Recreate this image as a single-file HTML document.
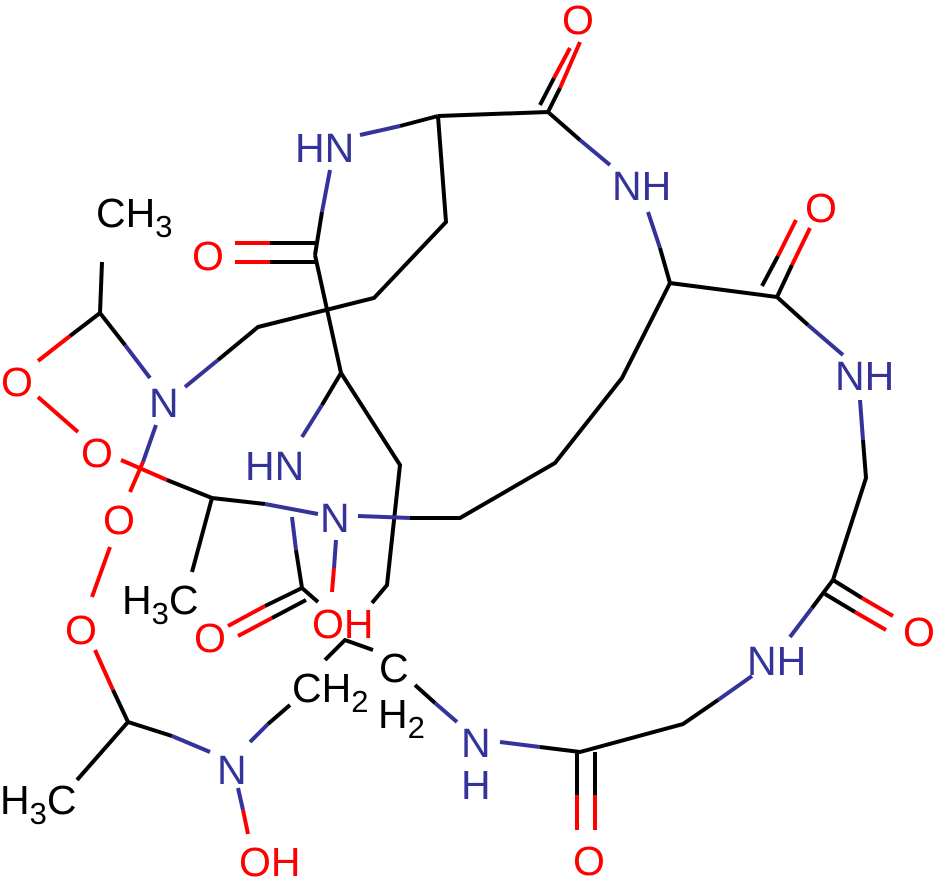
<!DOCTYPE html>
<html><head><meta charset="utf-8"><style>
html,body{margin:0;padding:0;background:#fff;width:935px;height:879px;overflow:hidden}
text{font-family:"Liberation Sans",sans-serif;font-size:41px}
.k{stroke:#000;stroke-width:4;fill:none}
.b{stroke:#33339a;stroke-width:4;fill:none}
.r{stroke:#f00;stroke-width:4;fill:none}
.tb{fill:#33339a}.tr{fill:#f00}.tk{fill:#000}
</style></head><body>
<svg width="935" height="879" viewBox="0 0 935 879" xmlns="http://www.w3.org/2000/svg">
<path class="k" d="M548,112 L560,88 M540,105 L554,78"/>
<path class="r" d="M560,88 L580,42 M554,78 L570,48"/>
<path class="k" d="M438,116 L548,112 M548,112 L580,140"/>
<path class="b" d="M580,140 L610,165"/>
<path class="k" d="M438,116 L400,126"/><path class="b" d="M400,126 L360,135"/>
<path class="b" d="M330,170 L322,212"/><path class="k" d="M322,212 L315,255"/>
<path class="r" d="M270,243 L235,243 M270,262 L235,262"/><path class="k" d="M315,243 L270,243 M315,262 L270,262"/>
<path class="b" d="M648,212 L660,248"/><path class="k" d="M660,248 L670,283 L777,297 L808,325"/>
<path class="b" d="M808,325 L843,355"/>
<path class="k" d="M777,297 L792,265 M762,286 L778,256"/><path class="r" d="M792,265 L810,228 M778,256 L796,220"/>
<path class="b" d="M860,400 L863,440"/><path class="k" d="M863,440 L866,478 L833,580 L812,608"/><path class="b" d="M812,608 L790,637"/>
<path class="k" d="M833,580 L862,598 M825,594 L855,612"/><path class="r" d="M862,598 L893,616 M855,612 L886,630"/>
<path class="b" d="M752,676 L718,700"/><path class="k" d="M718,700 L683,724 L580,752 L540,747"/><path class="b" d="M540,747 L500,742"/>
<path class="k" d="M577,752 L577,795 M595,752 L595,795"/><path class="r" d="M577,795 L577,830 M595,795 L595,830"/>
<path class="k" d="M438,116 L446,222 L374,298 L258,327 L218,360"/><path class="b" d="M218,360 L185,387"/>
<path class="k" d="M315,255 L341,373 L400,465 L387,585 L372,603"/>
<path class="k" d="M341,373 L322,405"/><path class="b" d="M322,405 L302,437"/>
<path class="b" d="M292,517 L296,550"/><path class="k" d="M296,550 L302,588 L318,602"/>
<path class="k" d="M302,588 L265,606 M306,600 L272,618"/><path class="r" d="M265,606 L228,626 M272,618 L238,636"/>
<path class="k" d="M670,283 L622,378 L555,463 L460,518 L410,518"/><path class="b" d="M410,518 L358,516"/>
<path class="b" d="M336,540 L334,568"/><path class="r" d="M334,568 L332,592"/>
<path class="k" d="M100,313 L125,345 M100,313 L102,262 M100,313 L70,336"/><path class="b" d="M125,345 L150,378"/>
<path class="r" d="M70,336 L38,361 M38,397 L78,432"/>
<path class="b" d="M156,425 L143,462"/><path class="r" d="M143,462 L130,492"/>
<path class="r" d="M121,460 L167,480 M110,547 L92,597"/><path class="k" d="M167,480 L212,498 L265,504"/><path class="b" d="M265,504 L318,514"/>
<path class="k" d="M212,498 L192,572"/>
<path class="r" d="M95,650 L113,690"/><path class="k" d="M113,690 L128,722 L172,736 M128,722 L77,780"/><path class="b" d="M172,736 L210,752"/>
<path class="b" d="M238,788 L243,810"/><path class="r" d="M243,810 L248,834"/>
<path class="b" d="M250,742 L268,724"/><path class="k" d="M268,724 L290,705 M325,660 L345,640 L373,650 M415,685 L435,703"/><path class="b" d="M435,703 L457,722"/>
<text x="562" y="34" class="tr">O</text>
<text x="295" y="162" class="tb">HN</text>
<text x="612" y="200" class="tb">NH</text>
<text x="192" y="270" class="tr">O</text>
<text x="805" y="222" class="tr">O</text>
<text x="835" y="390" class="tb">NH</text>
<text x="903" y="646" class="tr">O</text>
<text x="747" y="675" class="tb">NH</text>
<text x="461" y="757" class="tb">N</text><text x="461" y="799" class="tb">H</text>
<text x="573" y="875" class="tr">O</text>
<text x="96" y="227" class="tk">CH<tspan dy="10" font-size="31">3</tspan></text>
<text x="149" y="417" class="tb">N</text>
<text x="1" y="396" class="tr">O</text>
<text x="81" y="467" class="tr">O</text>
<text x="103" y="534" class="tr">O</text>
<text x="65" y="644" class="tr">O</text>
<text x="245" y="480" class="tb">HN</text>
<text x="320" y="532" class="tb">N</text>
<text x="122" y="614" class="tk">H<tspan dy="10" font-size="31">3</tspan><tspan dy="-10">C</tspan></text>
<text x="194" y="652" class="tr">O</text>
<text x="312" y="638" class="tr">OH</text>
<text x="292" y="702" class="tk">CH<tspan dy="10" font-size="31">2</tspan></text>
<text x="379" y="682" class="tk">C</text>
<text x="378" y="728" class="tk">H<tspan dy="10" font-size="31">2</tspan></text>
<text x="0" y="814" class="tk">H<tspan dy="10" font-size="31">3</tspan><tspan dy="-10">C</tspan></text>
<text x="217" y="784" class="tb">N</text>
<text x="239" y="876" class="tr">OH</text>
</svg>
</body></html>
